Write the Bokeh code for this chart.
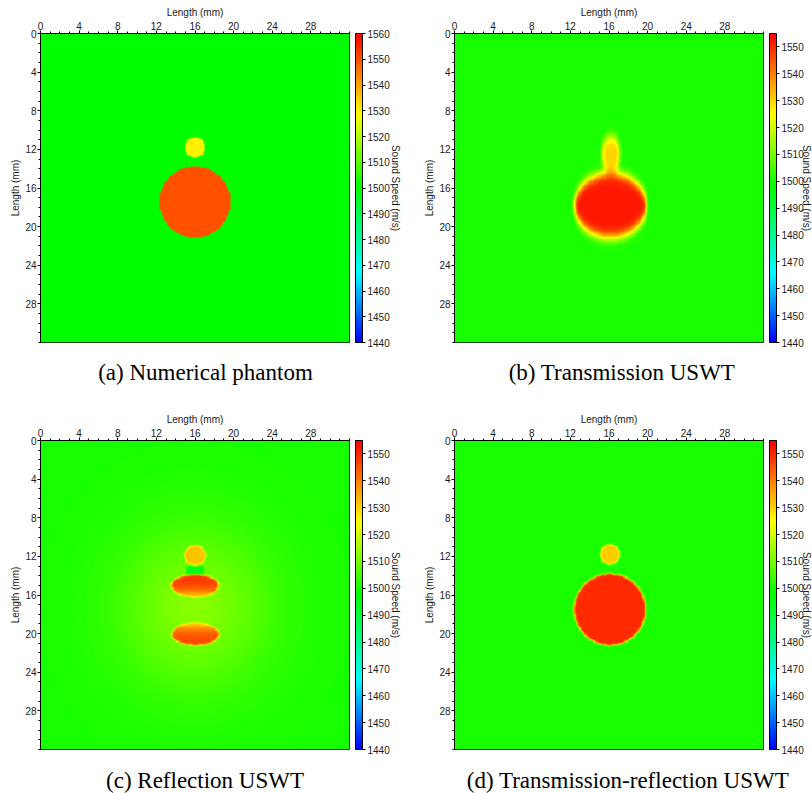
import numpy as np
from bokeh.plotting import figure
from bokeh.models import LinearColorMapper, ColorBar, FixedTicker, Range1d, Title
from bokeh.core.properties import value
from bokeh.layouts import column, row
from bokeh.embed import file_html
from bokeh.resources import INLINE

# ---------------- data ----------------
axis_ticks = [0, 4, 8, 12, 16, 20, 24, 28]
axis_minor_ticks = list(range(0, 33))
field_size_mm = 32
grid_n = 256

cbar_range_a = [1440, 1560]
cbar_ticks_a = [1440, 1450, 1460, 1470, 1480, 1490, 1500, 1510, 1520, 1530, 1540, 1550, 1560]
cbar_range_rec = [1440, 1555]
cbar_ticks_rec = [1440, 1450, 1460, 1470, 1480, 1490, 1500, 1510, 1520, 1530, 1540, 1550]

captions_top = ["(a) Numerical phantom", "(b) Transmission USWT"]
captions_bottom = ["(c) Reflection USWT", "(d) Transmission-reflection USWT"]
cbar_title = "Sound Speed (m/s)"

# colormap stops (fraction of range, RGB)
cmap_pos = [0.0, 0.225, 0.5, 0.74, 1.0]
cmap_r = [0, 0, 0, 255, 255]
cmap_g = [0, 255, 255, 255, 0]
cmap_b = [255, 255, 0, 0, 0]

background_speed = 1500

# (a) numerical phantom: inclusions (centre x, centre y, radius x, radius y, speed)
phantom_cx = [16.0, 16.0]
phantom_cy = [11.8, 17.45]
phantom_rx = [1.05, 3.68]
phantom_ry = [1.05, 3.68]
phantom_speed = [1530, 1550]

# (b) transmission USWT
trans_cx = [16.2, 16.15]
trans_cy = [12.5, 17.8]
trans_rx = [0.95, 3.75]
trans_ry = [1.9, 3.35]
trans_speed = [1530, 1552]
trans_blur_mm = [0.15, 0.55]          # sigma x, sigma y

# (c) reflection USWT
refl_halo_centre = [16.0, 17.3]
refl_halo_sigma = [5.6, 6.0]
refl_halo_amp = 12
refl_dot = [16.0, 11.9, 1.1, 1.05, 1532]           # cx, cy, rx, ry, speed
refl_bar = [16.0, 13.4, 0.85, 0.45, 1494]          # cx, cy, half-w, half-h, speed
refl_cap_top = [16.0, 15.05, 2.45, 1.15, 1548, 1528]   # cx, cy, a, b, top speed, bottom speed
refl_cap_bot = [16.05, 20.05, 2.45, 1.15, 1528, 1546]
refl_blur_mm = [0.08, 0.08]

# (d) transmission-reflection USWT
tr_cx = [16.1, 16.1]
tr_cy = [11.8, 17.5]
tr_rx = [1.03, 3.7]
tr_ry = [1.03, 3.7]
tr_speed = [1531, 1550]
tr_blur_mm = [0.09, 0.09]

# ---------------- helpers ----------------
dx = field_size_mm / grid_n
coords = (np.arange(grid_n) + 0.5) * dx
X, Y = np.meshgrid(coords, coords)


def ellipse(cx, cy, rx, ry):
    return ((X - cx) / rx) ** 2 + ((Y - cy) / ry) ** 2 <= 1.0


def blur(arr, sx, sy):
    out = arr.astype(float).copy()
    for axis, s in ((1, sx), (0, sy)):
        if s <= 0:
            continue
        r = int(np.ceil(4 * s / dx))
        k = np.exp(-0.5 * ((np.arange(-r, r + 1) * dx) / s) ** 2)
        k /= k.sum()
        out = np.apply_along_axis(
            lambda v: np.convolve(np.pad(v, r, mode="edge"), k, mode="valid"), axis, out)
    return out


def inclusions(cxs, cys, rxs, rys, speeds):
    img = np.full((grid_n, grid_n), float(background_speed))
    for cx, cy, rx, ry, s in zip(cxs, cys, rxs, rys, speeds):
        img[ellipse(cx, cy, rx, ry)] = s
    return img


img_a = inclusions(phantom_cx, phantom_cy, phantom_rx, phantom_ry, phantom_speed)
img_b = blur(inclusions(trans_cx, trans_cy, trans_rx, trans_ry, trans_speed), *trans_blur_mm)
img_d = blur(inclusions(tr_cx, tr_cy, tr_rx, tr_ry, tr_speed), *tr_blur_mm)

img_c = background_speed + refl_halo_amp * np.exp(
    -0.5 * (((X - refl_halo_centre[0]) / refl_halo_sigma[0]) ** 2
            + ((Y - refl_halo_centre[1]) / refl_halo_sigma[1]) ** 2))
cx, cy, rx, ry, s = refl_dot
img_c[ellipse(cx, cy, rx, ry)] = s
cx, cy, hw, hh, s = refl_bar
img_c[(np.abs(X - cx) <= hw) & (np.abs(Y - cy) <= hh)] = s
for cap in (refl_cap_top, refl_cap_bot):
    cx, cy, a, b, s_top, s_bot = cap
    m = ellipse(cx, cy, a, b)
    t = np.clip((Y - (cy - b)) / (2 * b), 0, 1)
    if s_top > s_bot:
        vals = s_top - (s_top - s_bot) * t ** 3
    else:
        vals = s_bot - (s_bot - s_top) * (1 - t) ** 3
    img_c[m] = vals[m]
img_c = blur(img_c, *refl_blur_mm)

# palette
frac = np.linspace(0, 1, 256)
pal_r = np.interp(frac, cmap_pos, cmap_r)
pal_g = np.interp(frac, cmap_pos, cmap_g)
pal_b = np.interp(frac, cmap_pos, cmap_b)
palette = ["#%02x%02x%02x" % (int(round(r)), int(round(g)), int(round(b)))
           for r, g, b in zip(pal_r, pal_g, pal_b)]

SANS = "Liberation Sans"
SERIF = "Liberation Serif"
TXT = "#1a1a1a"

# ---------------- layout constants (pixels) ----------------
PAGE_W, PAGE_H = 812, 793
FRAME = 309
TOP_B = 33
BOT_B = 8
LEFT_B = [40, 32]
RIGHT_B = [72, 50]
CB_TITLE_STANDOFF = [-6, -12]
ROW_H = TOP_B + FRAME + BOT_B
ROW2_TOP = 407
CAP_TOP_H = ROW2_TOP - ROW_H
CAP_BOT_H = PAGE_H - ROW2_TOP - ROW_H
CAP_TOP_Y = 372 - ROW_H
CAP_BOT_Y = 780 - (ROW2_TOP + ROW_H)
CAP_TOP_X = [205, 621.5]
CAP_BOT_X = [204.5, 627.5]


def make_panel(img, rng, cticks, col):
    mapper = LinearColorMapper(palette=palette, low=rng[0], high=rng[1])
    p = figure(frame_width=FRAME, frame_height=FRAME,
               x_range=Range1d(0, field_size_mm), y_range=Range1d(field_size_mm, 0),
               x_axis_location="above", output_backend="svg", toolbar_location=None,
               min_border_left=LEFT_B[col], min_border_top=TOP_B,
               min_border_right=RIGHT_B[col], min_border_bottom=BOT_B)
    p.image(image=[img], x=0, y=0, dw=field_size_mm, dh=field_size_mm, color_mapper=mapper)
    p.grid.visible = False
    p.outline_line_color = "black"
    p.outline_line_alpha = 1
    p.outline_line_width = 1
    p.background_fill_color = "white"
    p.border_fill_color = "white"
    for ax in (p.xaxis[0], p.yaxis[0]):
        ax.ticker = FixedTicker(ticks=axis_ticks, minor_ticks=axis_minor_ticks)
        ax.axis_label = "Length (mm)"
        ax.axis_label_text_font = SANS
        ax.axis_label_text_font_size = "10px"
        ax.axis_label_text_font_style = "normal"
        ax.axis_label_text_color = TXT
        ax.major_label_text_font = SANS
        ax.major_label_text_font_size = "10px"
        ax.major_label_text_color = TXT
        ax.major_tick_in = 0
        ax.major_tick_out = 3
        ax.minor_tick_in = 0
        ax.minor_tick_out = 2
        ax.major_label_standoff = 1
        ax.axis_label_standoff = 1
        ax.axis_line_color = "black"
        ax.major_tick_line_color = "black"
        ax.minor_tick_line_color = "black"
    # small gap between the image and the colour bar
    p.add_layout(Title(text=" ", text_font_size="1px", standoff=3), "right")
    cb = ColorBar(color_mapper=mapper, ticker=FixedTicker(ticks=cticks), width=7,
                  padding=0, margin=0, major_tick_in=0, major_tick_out=3,
                  major_tick_line_color="black", minor_tick_line_color=None,
                  label_standoff=2, major_label_text_font=SANS,
                  major_label_text_font_size="10px", major_label_text_color=TXT,
                  bar_line_color="black", background_fill_alpha=0, border_line_color=None)
    p.add_layout(cb, "right")
    p.add_layout(Title(text=cbar_title, align="center", text_font=SANS,
                       text_font_size="10px", text_font_style="normal",
                       text_color=TXT, standoff=CB_TITLE_STANDOFF[col]), "right")
    return p


def caption_strip(texts, centers, height, cy):
    c = figure(width=PAGE_W, height=height, x_range=Range1d(0, PAGE_W),
               y_range=Range1d(height, 0), x_axis_location=None, y_axis_location=None,
               output_backend="svg", toolbar_location=None, min_border=0)
    c.outline_line_color = None
    c.grid.visible = False
    c.text(x=centers, y=[cy] * len(texts), text=texts,
           text_align="center", text_baseline="middle",
           text_font=value(SERIF), text_font_size="23px", text_color="black")
    return c


pa = make_panel(img_a, cbar_range_a, cbar_ticks_a, 0)
pb = make_panel(img_b, cbar_range_rec, cbar_ticks_rec, 1)
pc = make_panel(img_c, cbar_range_rec, cbar_ticks_rec, 0)
pd = make_panel(img_d, cbar_range_rec, cbar_ticks_rec, 1)

cap_top = caption_strip(captions_top, CAP_TOP_X, CAP_TOP_H, CAP_TOP_Y)
cap_bot = caption_strip(captions_bottom, CAP_BOT_X, CAP_BOT_H, CAP_BOT_Y)

layout = column(row(pa, pb), cap_top, row(pc, pd), cap_bot)
open("out.html", "w").write(file_html(layout, INLINE))
